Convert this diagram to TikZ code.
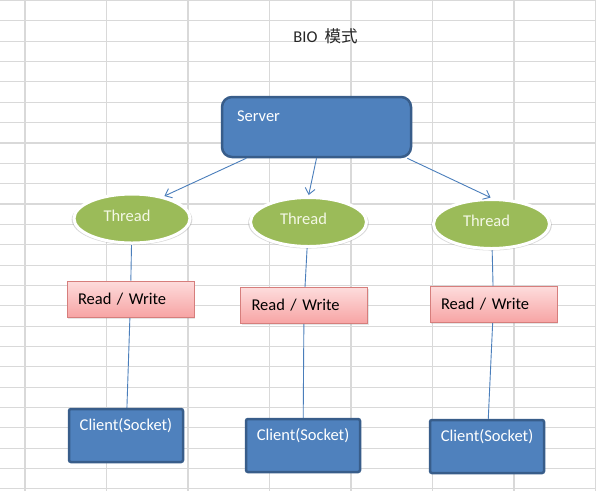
\documentclass[tikz,border=0pt]{standalone}
\usepackage{fontspec}
\setmainfont{Carlito}
\newfontfamily\cjk{Noto Sans CJK SC}
\usetikzlibrary{shapes.geometric,arrows.meta,shadows,backgrounds}

\definecolor{boxblue}{HTML}{4F81BD}
\definecolor{boxedge}{HTML}{385D8A}
\definecolor{threadgreen}{HTML}{9BBB59}
\definecolor{threadtext}{HTML}{F4F8E6}
\definecolor{rwtop}{HTML}{FDDCDC}
\definecolor{rwbottom}{HTML}{F7A4A4}
\definecolor{rwedge}{HTML}{D67E7C}
\definecolor{linkblue}{HTML}{4A7EBB}
\definecolor{gridgray}{HTML}{D9D9D9}

\tikzset{
    bluebox/.style={draw=boxedge, line width=2.5pt, fill=boxblue, text=white, inner sep=0pt},
    threadnode/.style={ellipse, draw=white, line width=3pt, fill=threadgreen, text=threadtext,
        minimum width=116pt, minimum height=49pt, inner sep=0pt,
        text width=57pt, align=left, text depth=6pt,
        drop shadow={opacity=0.3, shadow scale=1.04, shadow xshift=0pt, shadow yshift=-1pt}},
    rwbox/.style={draw=rwedge, line width=0.8pt, top color=rwtop, bottom color=rwbottom,
        minimum width=127pt, minimum height=36pt, text width=105pt, align=left, inner xsep=11pt,
        drop shadow={opacity=0.2, shadow xshift=1pt, shadow yshift=-1.5pt}},
    link/.style={draw=linkblue, line width=0.9pt},
    gridline/.style={draw=gridgray, line width=1.1pt}
}

\begin{document}
\begin{tikzpicture}[x=1pt, y=-1pt, font=\fontsize{16.5}{20}\selectfont]
            \useasboundingbox (0,0) rectangle (596,491);

            % title
            \node[text=black!85] (title) at (325.5,36) {BIO\hspace{7pt}{\cjk 模式}};

            % server
            \node[bluebox, rounded corners=10pt, minimum width=189pt, text width=159pt, align=left,
                inner xsep=15pt, text height=24pt, text depth=36pt] (server) at (316.5,127) {Server};

            % threads
            \node[threadnode] (t1) at (132,218.5) {Thread};
            \node[threadnode] (t2) at (308.5,222) {Thread};
            \node[threadnode] (t3) at (491.5,224) {Thread};

            % read / write
            \node[rwbox] (rw1) at (130.5,299) {Read / Write};
            \node[rwbox] (rw2) at (304,305.5) {Read / Write};
            \node[rwbox] (rw3) at (493.5,304.5) {Read / Write};

            % clients
            \node[bluebox, rounded corners=2pt, minimum width=114pt, text width=114pt, align=center,
                text height=21.5pt, text depth=31.5pt] (c1) at (126,435.5) {Client(Socket)};
            \node[bluebox, rounded corners=2pt, minimum width=114pt, text width=114pt, align=center,
                text height=21.5pt, text depth=31.5pt] (c2) at (303,445.5) {Client(Socket)};
            \node[bluebox, rounded corners=2pt, minimum width=114pt, text width=114pt, align=center,
                text height=21.5pt, text depth=31.5pt] (c3) at (487,446.5) {Client(Socket)};

            % arrows
            \draw[link, -{Straight Barb[length=6pt,width=10pt]}, shorten >=1pt] (server.-156) -- (t1.35);
            \draw[link, -{Straight Barb[length=6pt,width=10pt]}, shorten >=1pt] (server.south) -- (t2.north);
            \draw[link, -{Straight Barb[length=6pt,width=10pt]}, shorten >=1pt] (server.-19) -- (t3.north);

            \begin{scope}[on background layer]
                \fill[white] (0,0) rectangle (596,491);
                \foreach \gx in {25,106.5,...,600}
                    \draw[gridline] (\gx,0) -- (\gx,491);
                \foreach \gy in {0.5,20.85,...,491}
                    \draw[gridline] (0,\gy) -- (596,\gy);

                \draw[link] (t1) -- (rw1) -- (c1);
                \draw[link] (t2) -- (rw2) -- (c2);
                \draw[link] (t3) -- (rw3) -- (c3);
            \end{scope}
        \end{tikzpicture}
\end{document}
